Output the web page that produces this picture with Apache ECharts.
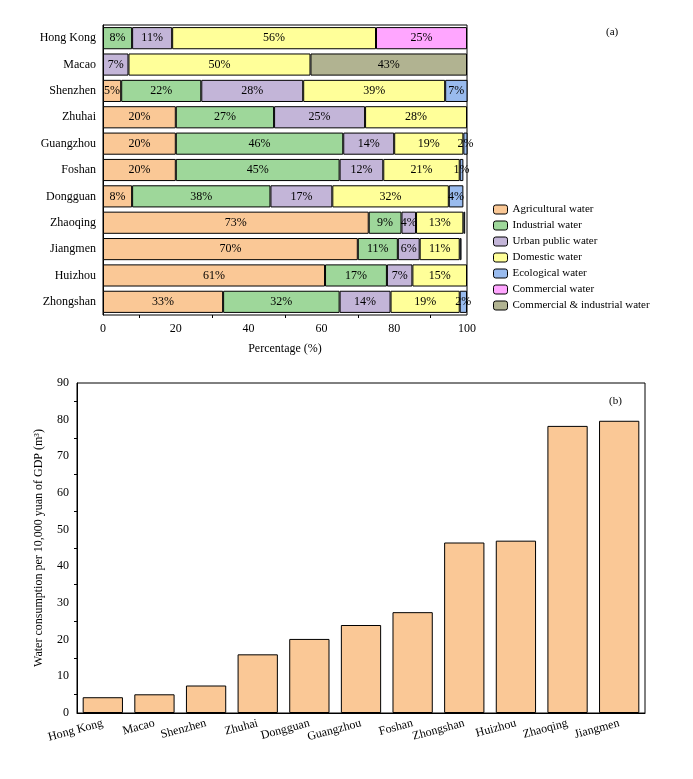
<!DOCTYPE html>
<html><head><meta charset="utf-8">
<script src="https://cdn.jsdelivr.net/npm/echarts@6/dist/echarts.min.js"></script>
<style>html,body{margin:0;background:#fff}#c{width:693px;height:779px}</style>
</head><body><div id="c"></div>
<script>
var cities = ['Hong Kong','Macao','Shenzhen','Zhuhai','Guangzhou','Foshan','Dongguan','Zhaoqing','Jiangmen','Huizhou','Zhongshan'];
var agricultural = [0,0,5,20,20,20,8,73,70,61,33];
var industrial = [8,0,22,27,46,45,38,9,11,17,32];
var urbanPublic = [11,7,28,25,14,12,17,4,6,7,14];
var domestic = [56,50,39,28,19,21,32,13,11,15,19];
var ecological = [0,0,7,1,2,1,4,0.5,0.5,0.5,2];
var commercial = [25,0,0,0,0,0,0,0,0,0,0];
var commercialIndustrial = [0,43,0,0,0,0,0,0,0,0,0];

var cities2 = ['Hong Kong','Macao','Shenzhen','Zhuhai','Dongguan','Guangzhou','Foshan','Zhongshan','Huizhou','Zhaoqing','Jiangmen'];
var consumption = [4.3,5.1,7.5,16,20.2,24,27.5,46.5,47,78.3,79.7];

var F = 'Liberation Serif';
var names = ['Agricultural water','Industrial water','Urban public water','Domestic water','Ecological water','Commercial water','Commercial & industrial water'];
var colors = ['#FAC896','#9ED79A','#C3B5D8','#FFFF99','#99BBEE','#FFA6FF','#B1B391'];
var arrs = [agricultural,industrial,urbanPublic,domestic,ecological,commercial,commercialIndustrial];

var series = arrs.map(function(a,i){
  return {
    name: names[i], type:'bar', stack:'s', xAxisIndex:0, yAxisIndex:0, barWidth:'84%',
    data: a.map(function(v){return v===0?null:v;}),
    itemStyle:{color:colors[i], borderColor:'#000', borderWidth:1},
    label:{show:true, position:'inside', fontFamily:F, fontSize:12, color:'#000',
      formatter:function(p){return p.value>=1? p.value+'%':'';}}
  };
});
series.push({type:'bar', xAxisIndex:1, yAxisIndex:1, data:consumption, barWidth:'78%',
  itemStyle:{color:'#FAC896', borderColor:'#000', borderWidth:1}});

var chart = echarts.init(document.getElementById('c'));
chart.setOption({
  animation:false,
  textStyle:{fontFamily:F},
  grid:[
    {left:103,right:226,top:25,bottom:464,show:true,borderColor:'#000',borderWidth:1},
    {left:77,right:48,top:383,bottom:66,show:true,borderColor:'#000',borderWidth:1}
  ],
  legend:{orient:'vertical', left:488, top:199, itemWidth:14, itemHeight:9, itemGap:5,
    data:names, textStyle:{fontFamily:F,fontSize:11,color:'#000'},
    itemStyle:{borderColor:'#000',borderWidth:1}},
  xAxis:[
    {gridIndex:0,type:'value',min:0,max:100,interval:20,name:'Percentage (%)',nameLocation:'middle',nameGap:28,
     nameTextStyle:{fontFamily:F,fontSize:12,color:'#000'},
     axisLine:{lineStyle:{color:'#000'}},axisTick:{inside:false,lineStyle:{color:'#000'}},
     minorTick:{show:true,splitNumber:2,lineStyle:{color:'#000'}},splitLine:{show:false},
     axisLabel:{fontFamily:F,fontSize:12,color:'#000'}},
    {gridIndex:1,type:'category',data:cities2,
     axisLine:{lineStyle:{color:'#000'}},axisTick:{show:false},
     axisLabel:{fontFamily:F,fontSize:12,color:'#000',rotate:15,interval:0,margin:10}}
  ],
  yAxis:[
    {gridIndex:0,type:'category',data:cities,inverse:true,
     axisLine:{lineStyle:{color:'#000'}},axisTick:{show:false},
     axisLabel:{fontFamily:F,fontSize:12,color:'#000',margin:7}},
    {gridIndex:1,type:'value',min:0,max:90,interval:10,
     name:'Water consumption per 10,000 yuan of GDP (m³)',nameLocation:'middle',nameGap:32,
     nameTextStyle:{fontFamily:F,fontSize:12,color:'#000'},
     axisLine:{show:true,lineStyle:{color:'#000'}},axisTick:{lineStyle:{color:'#000'}},
     minorTick:{show:true,splitNumber:2,lineStyle:{color:'#000'}},splitLine:{show:false},
     axisLabel:{fontFamily:F,fontSize:12,color:'#000'}}
  ],
  graphic:[
    {type:'text',left:606,top:27,style:{text:'(a)',font:'11px "Liberation Serif"',fill:'#000'}},
    {type:'text',left:609,top:396,style:{text:'(b)',font:'11px "Liberation Serif"',fill:'#000'}}
  ],
  series:series
});
</script></body></html>
